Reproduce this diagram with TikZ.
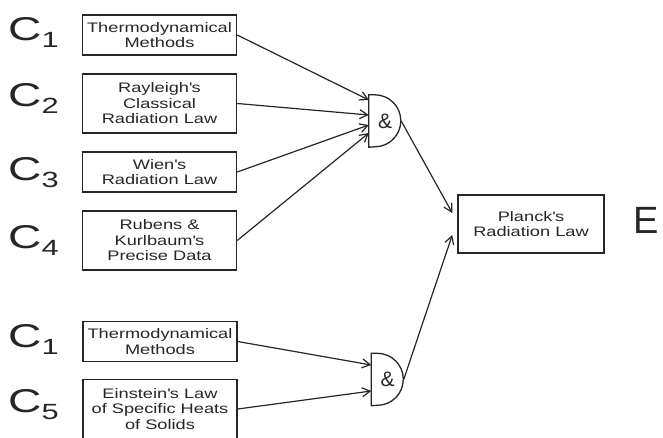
\documentclass[tikz,border=0pt]{standalone}
\usepackage{fontspec}
\setmainfont{Liberation Sans}
\newfontfamily\boxfont[FakeStretch=1.32]{Liberation Sans}
\newfontfamily\bigfont[FakeStretch=1.4]{Liberation Sans}
\usetikzlibrary{arrows.meta}
\definecolor{ink}{HTML}{262626}
\newcommand{\cond}[1]{{\bigfont\fontsize{33}{33}\selectfont C\raisebox{-7pt}{\fontsize{22}{22}\selectfont #1}}}

\tikzset{
  law/.style={draw=ink, line width=1.5pt, minimum width=154pt, inner sep=0pt, align=center, text=ink, font=\boxfont\fontsize{13.8}{15.5}\selectfont},
  twoline/.style={law, minimum height=40pt},
  threeline/.style={law, minimum height=59pt},
  clbl/.style={anchor=base west, inner sep=0pt, text=ink},
  gatebox/.style={minimum width=32pt, minimum height=52pt, inner sep=0pt, text=ink, font=\fontsize{21}{21}\selectfont},
  link/.style={draw=ink, line width=1.2pt, -{Straight Barb[length=8pt,width=9pt]}},
}

\begin{document}
\begin{tikzpicture}[x=1pt,y=1pt]
    \useasboundingbox (0,0) rectangle (663,437);

    % Conditions, first set
    \node[twoline] (thermo) at (159.5,402) {Thermodynamical\\Methods};
    \node[threeline] (rayleigh) at (159.5,333.5) {Rayleigh\textquotesingle s\\Classical\\Radiation Law};
    \node[twoline] (wien) at (159.5,265) {Wien\textquotesingle s\\Radiation Law};
    \node[threeline] (rubens) at (159.5,196.5) {Rubens \&\\Kurlbaum\textquotesingle s\\Precise Data};

    % Conditions, second set
    \node[twoline] (thermob) at (160,95.5) {Thermodynamical\\Methods};
    \node[threeline] (einstein) at (160,28) {Einstein\textquotesingle s Law\\of Specific Heats\\of Solids};

    % Labels
    \node[clbl] (c1) at (8,396) {\cond{1}};
    \node[clbl] (c2) at (8,330) {\cond{2}};
    \node[clbl] (c3) at (8,257) {\cond{3}};
    \node[clbl] (c4) at (8,189) {\cond{4}};
    \node[clbl] (c1b) at (8,90) {\cond{1}};
    \node[clbl] (c5) at (8,25) {\cond{5}};
    \node[clbl, font=\fontsize{38}{38}\selectfont] (e) at (633,204) {E};

    % Explanandum
    \node[law, minimum width=146pt, minimum height=58pt] (planck) at (531,213) {Planck\textquotesingle s\\Radiation Law};

    % Gates
    \node[gatebox] (and1) at (385,316) {\&};
    \draw[ink, line width=1.3pt] (and1.north west) -- ++(6,0) arc[start angle=90, end angle=-90, radius=26] -- (and1.south west) -- cycle;
    \node[gatebox] (and2) at (387.5,57.5) {\&};
    \draw[ink, line width=1.3pt] (and2.north west) -- ++(6,0) arc[start angle=90, end angle=-90, radius=26] -- (and2.south west) -- cycle;

    \coordinate (in1) at ([yshift=21pt]and1.west);
    \coordinate (in2) at ([yshift=6pt]and1.west);
    \coordinate (in3) at ([yshift=-4pt]and1.west);
    \coordinate (in4) at ([yshift=-12pt]and1.west);
    \coordinate (in5) at ([yshift=14.5pt]and2.west);
    \coordinate (in6) at ([yshift=-11.5pt]and2.west);
    \coordinate (p1) at ([xshift=-5pt,yshift=11pt]planck.west);
    \coordinate (p2) at ([xshift=-5pt,yshift=-11pt]planck.west);

    % Arrows
    \draw[link] (thermo.east) -- (in1);
    \draw[link] (rayleigh.east) -- (in2);
    \draw[link] (wien.east) -- (in3);
    \draw[link] (rubens.east) -- (in4);
    \draw[link] (thermob.east) -- (in5);
    \draw[link] (einstein.east) -- (in6);

    \draw[link] (and1.east) -- (p1);
    \draw[link] (and2.east) -- (p2);

\end{tikzpicture}
\end{document}
